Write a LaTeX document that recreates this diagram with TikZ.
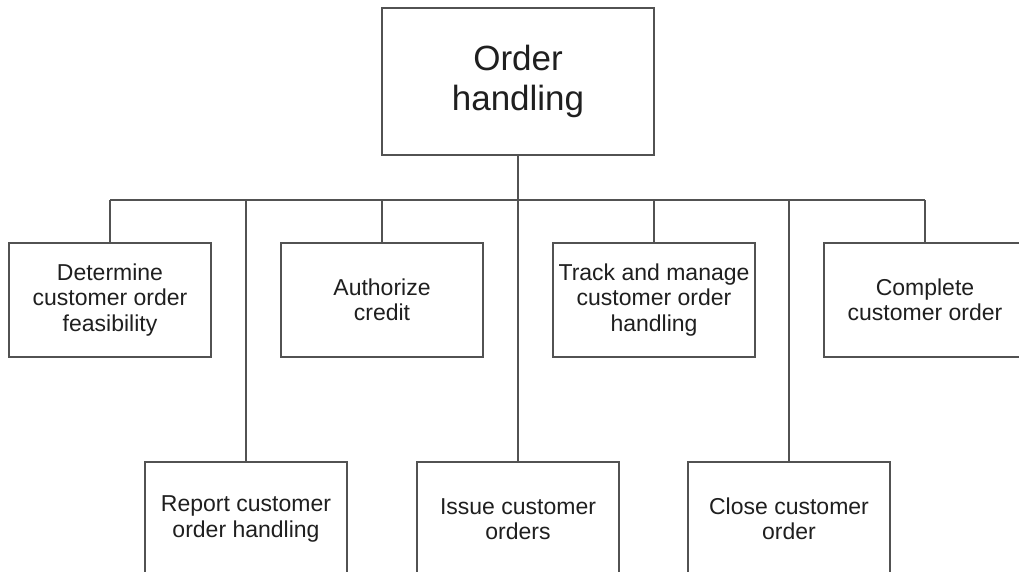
\documentclass[tikz,border=0pt]{standalone}
\usepackage{fontspec}
\setmainfont{Liberation Sans}
\begin{document}
\begin{tikzpicture}[x=1pt,y=-1pt,
  task/.style={draw=black!68, line width=1.1pt, rectangle, minimum width=202pt, minimum height=114pt,
    inner sep=0pt, align=center, text=black!88, font=\fontsize{23pt}{25.5pt}\selectfont},
  rootbox/.style={task, minimum width=272pt, minimum height=147pt, font=\fontsize{35pt}{40pt}\selectfont},
  link/.style={draw=black!68, line width=1.1pt}]
\useasboundingbox (0,0) rectangle (1019,572);
\fill[white] (0,0) rectangle (1019,572);
\begin{scope}
\clip (0,0) rectangle (1019,572);

% root
\node[rootbox] (root) at (518,81.5) {Order\\handling};

% first row
\node[task] (feas)  at (110,300) {Determine\\customer order\\feasibility};
\node[task] (cred)  at (382,300) {Authorize\\credit};
\node[task] (track) at (654,300) {Track and manage\\customer order\\handling};
\node[task] (comp)  at (925,300) {Complete\\customer order};

% second row
\node[task] (rep)   at (246,519) {Report customer\\order handling};
\node[task] (issue) at (518,519) {Issue customer\\orders};
\node[task] (close) at (789,519) {Close customer\\order};

% bus
\coordinate (busL) at (110,200);
\coordinate (busR) at (925,200);
\coordinate (busM) at (518,200);
\draw[link] (busL) -- (busR);
\draw[link] (root.south) -- (busM);

% drops to each task
\foreach \t in {feas,cred,track,comp,rep,issue,close}
  \draw[link] (\t.north) -- (\t.north |- busM);
\end{scope}
\end{tikzpicture}
\end{document}
